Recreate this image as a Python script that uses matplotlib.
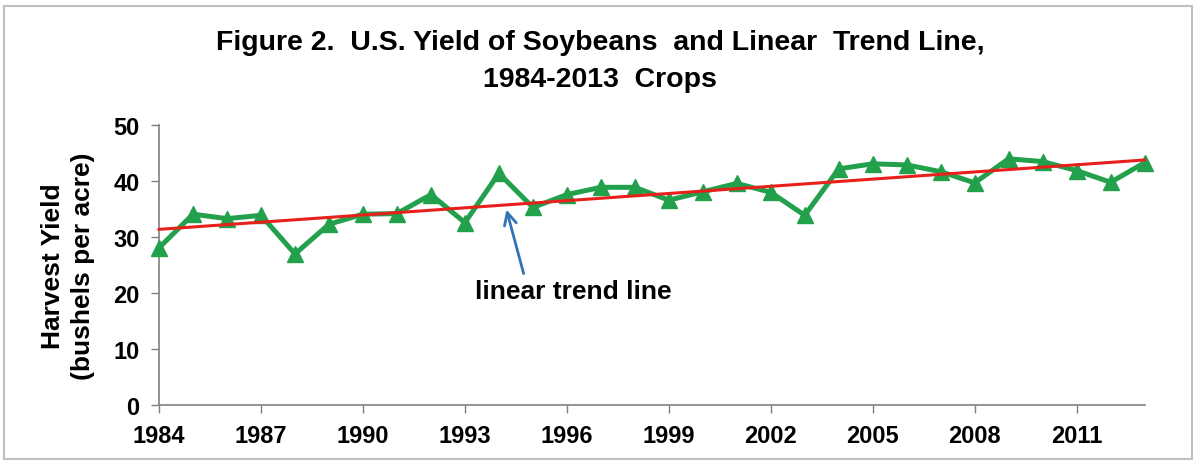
import numpy as np
import matplotlib
matplotlib.use("Agg")
import matplotlib.pyplot as plt
from matplotlib.patches import Rectangle

years = list(range(1984, 2014))
yields = [28.1, 34.1, 33.3, 33.9, 27.0, 32.3, 34.1, 34.2, 37.6, 32.6,
          41.4, 35.3, 37.6, 38.9, 38.9, 36.6, 38.1, 39.6, 38.0, 33.9,
          42.2, 43.1, 42.9, 41.7, 39.7, 44.0, 43.5, 41.9, 39.8, 43.3]
tick_years = [1984, 1987, 1990, 1993, 1996, 1999, 2002, 2005, 2008, 2011]

plt.rcParams['font.family'] = ['Liberation Sans', 'DejaVu Sans']
plt.rcParams['font.weight'] = 'bold'

fig = plt.figure(figsize=(11.96, 4.64), dpi=100)
ax = fig.add_axes([0.133, 0.125, 0.824, 0.603])

# linear trend (least squares, like the spreadsheet trendline)
coef = np.polyfit(years, yields, 1)
trend = np.polyval(coef, [years[0], years[-1]])

ax.plot(years, yields, color='#22a04b', lw=3.6, marker='^', ms=11.5,
        mec='#22a04b', clip_on=False, zorder=3)
ax.plot([years[0], years[-1]], trend, color='#e8201c', lw=2.2, zorder=4,
        clip_on=False)

ax.set_xlim(1984, 2013)
ax.set_ylim(0, 50)
ax.set_xticks(tick_years)
ax.set_yticks([0, 10, 20, 30, 40, 50])
ax.tick_params(axis='both', labelsize=17, colors='#808080', length=6,
               width=1, pad=8, labelcolor='black')
for lab in ax.get_xticklabels() + ax.get_yticklabels():
    lab.set_fontweight('bold')
for s in ['top', 'right']:
    ax.spines[s].set_visible(False)
for s in ['left', 'bottom']:
    ax.spines[s].set_color('#808080')
    ax.spines[s].set_linewidth(1.2)

fig.text(68 / 1196, 1 - 266 / 464, 'Harvest Yield\n(bushels per acre)',
         fontsize=19, fontweight='bold', rotation=90, ha='center',
         va='center', multialignment='center', linespacing=1.3)

ax.annotate('', xy=(1994.2, 35.4), xytext=(1994.75, 23.0),
            arrowprops=dict(arrowstyle='->', color='#2e75b6', lw=2,
                            mutation_scale=22))
ax.text(1996.2, 20.3, 'linear trend line', fontsize=19, fontweight='bold',
        ha='center', va='center')

fig.text(0.502, 0.907, 'Figure 2.  U.S. Yield of Soybeans  and Linear  Trend Line,',
         fontsize=20.5, fontweight='bold', ha='center', va='center')
fig.text(0.502, 0.828, '1984-2013  Crops', fontsize=20.5, fontweight='bold',
         ha='center', va='center')

fig.patches.append(Rectangle((4 / 1196, 4 / 464), 1188 / 1196, 453 / 464,
                             transform=fig.transFigure, fill=False,
                             edgecolor='#c0c0c0', lw=1.5))

fig.savefig('out.png', dpi=100)
